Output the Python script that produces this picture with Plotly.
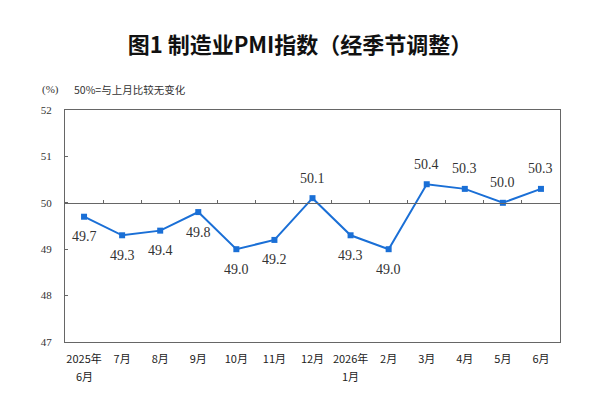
import plotly.graph_objects as go

labels = ["2025年", "7月", "8月", "9月", "10月", "11月", "12月", "2026年", "2月", "3月", "4月", "5月", "6月"]
sub_labels = {0: "6月", 7: "1月"}
values = [49.7, 49.3, 49.4, 49.8, 49.0, 49.2, 50.1, 49.3, 49.0, 50.4, 50.3, 50.0, 50.3]
above = [False] * 6 + [True, False, False, True, True, True, True]
y_ticks = [47, 48, 49, 50, 51, 52]

x = list(range(len(values)))
blue = "#1a6fd6"
serif = "Liberation Serif, Times New Roman, serif"
cjk = "Noto Sans CJK SC, sans-serif"

fig = go.Figure()
fig.add_trace(go.Scatter(
    x=x, y=values, mode="lines+markers",
    line=dict(color=blue, width=2),
    marker=dict(symbol="square", size=6, color=blue),
    cliponaxis=False, showlegend=False,
))
fig.add_trace(go.Scatter(x=[x[0]], y=[50], xaxis="x2", mode="markers",
                         marker=dict(opacity=0), showlegend=False, hoverinfo="skip"))

annotations = []
for xi, v, up in zip(x, values, above):
    annotations.append(dict(x=xi, y=v, xref="x", yref="y", text=f"{v:.1f}", showarrow=False,
                            yshift=20 if up else -20, xanchor="center", yanchor="middle",
                            font=dict(family=serif, size=14, color="#333")))
for xi, t in sub_labels.items():
    annotations.append(dict(x=xi, y=-0.145, xref="x", yref="paper", text=t, showarrow=False,
                            xanchor="center", yanchor="middle",
                            font=dict(family=cjk, size=11, color="#222")))

pw, ph = 600 - 65 - 40, 409 - 110 - 67
def px(xp, yp):
    return (xp - 65) / pw, (409 - 67 - yp) / ph

ax, ay = px(40, 90)
annotations.append(dict(text="(%)", x=ax, y=ay, xref="paper", yref="paper", showarrow=False,
                        font=dict(family=serif, size=11, color="#333"), xanchor="left", yanchor="middle"))
ax, ay = px(72, 90)
annotations.append(dict(text="50%=与上月比较无变化", x=ax, y=ay, xref="paper", yref="paper", showarrow=False,
                        font=dict(family=cjk, size=10.5, color="#333"), xanchor="left", yanchor="middle"))

fig.update_layout(
    width=600, height=409,
    margin=dict(l=65, r=40, t=110, b=67),
    paper_bgcolor="white", plot_bgcolor="white",
    title=dict(text="图1 制造业PMI指数（经季节调整）", x=0.5, xanchor="center", y=0.89, yanchor="middle",
               font=dict(family=cjk, size=22, color="#111", weight=600)),
    xaxis=dict(
        range=[-0.5, len(values) - 0.5], tickmode="array", tickvals=x, ticktext=labels,
        showgrid=False, zeroline=False, showline=True, linecolor="#666", linewidth=1.2, mirror=True,
        ticks="", tickfont=dict(family=cjk, size=11, color="#222"), ticklabelstandoff=7,
    ),
    xaxis2=dict(
        overlaying="x", anchor="free", position=(50 - 47) / (52 - 47), side="bottom",
        range=[-0.5, len(values) - 0.5], tickmode="array",
        tickvals=[i + 0.5 for i in x[:-1]], showticklabels=False,
        ticks="inside", ticklen=3, tickcolor="#666", showline=True, linecolor="#666", linewidth=1.2,
        showgrid=False, zeroline=False,
    ),
    yaxis=dict(
        range=[47, 52], tickmode="array", tickvals=y_ticks, ticktext=[str(t) for t in y_ticks],
        showgrid=False, zeroline=False, showline=True, linecolor="#666", linewidth=1.2, mirror=True,
        ticks="inside", ticklen=3, tickcolor="#666",
        tickfont=dict(family=serif, size=11, color="#333"), ticklabelstandoff=10,
    ),
    annotations=annotations,
)

fig.write_html("out.html")
